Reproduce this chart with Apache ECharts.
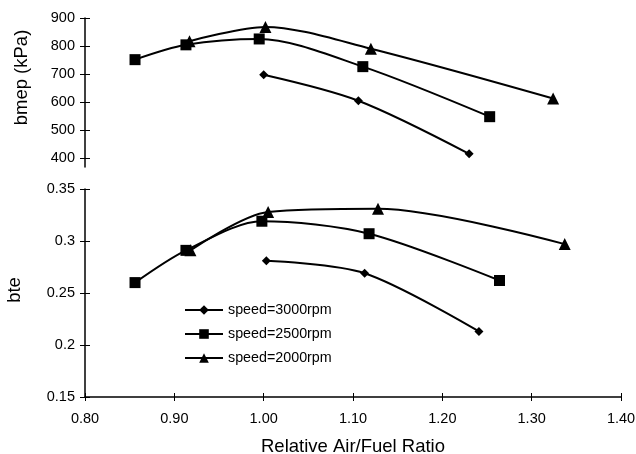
<!DOCTYPE html>
<html>
<head>
<meta charset="utf-8">
<script src="https://cdn.jsdelivr.net/npm/echarts@6/dist/echarts.min.js"></script>
<style>
  html, body { margin: 0; padding: 0; background: #fff; }
  #chart { width: 636px; height: 454px; }
</style>
</head>
<body>
<div id="chart"></div>
<script>
// speeds (legend entries)
const speeds = ['speed=3000rpm', 'speed=2500rpm', 'speed=2000rpm'];
const markers = ['diamond', 'rect', 'triangle'];
const markerSizes = [9, 11, 12];

// top panel: bmep (kPa) vs relative air/fuel ratio
const lambdaBmep3000 = [1.000, 1.106, 1.230];
const bmep3000       = [697, 604, 414];
const lambdaBmep2500 = [0.856, 0.913, 0.995, 1.111, 1.253];
const bmep2500       = [751, 804, 825, 726, 547];
const lambdaBmep2000 = [0.917, 1.002, 1.120, 1.324];
const bmep2000       = [817, 868, 790, 612];

// bottom panel: bte vs relative air/fuel ratio
const lambdaBte3000 = [1.003, 1.113, 1.241];
const bte3000       = [0.281, 0.269, 0.213];
const lambdaBte2500 = [0.856, 0.913, 0.998, 1.118, 1.264];
const bte2500       = [0.260, 0.291, 0.319, 0.307, 0.262];
const lambdaBte2000 = [0.918, 1.005, 1.128, 1.337];
const bte2000       = [0.291, 0.328, 0.331, 0.297];

const bmepTicks = [400, 500, 600, 700, 800, 900];

const FONT = '"Liberation Sans", Arial, sans-serif';
const pairs = (xs, ys) => xs.map((x, i) => [x, ys[i]]);

const topData = [pairs(lambdaBmep3000, bmep3000), pairs(lambdaBmep2500, bmep2500), pairs(lambdaBmep2000, bmep2000)];
const botData = [pairs(lambdaBte3000, bte3000), pairs(lambdaBte2500, bte2500), pairs(lambdaBte2000, bte2000)];

const axisLine = { show: true, lineStyle: { color: '#000', width: 1.5 } };
const tickLabel = { color: '#000', fontSize: 14.5, fontFamily: FONT };
const titleText = { color: '#000', fontSize: 18.5, fontFamily: FONT };

function makeSeries(data, axisIdx) {
  return data.map((d, i) => ({
    name: speeds[i],
    type: 'line',
    xAxisIndex: axisIdx,
    yAxisIndex: axisIdx,
    data: d,
    smooth: 0.3,
    symbol: markers[i],
    symbolSize: markerSizes[i],
    itemStyle: { color: '#000' },
    lineStyle: { color: '#000', width: 2 },
  }));
}

const chart = echarts.init(document.getElementById('chart'), null, { renderer: 'canvas' });
chart.setOption({
  backgroundColor: '#fff',
  animation: false,
  grid: [
    { left: 85, right: 15, top: 18, height: 149, outerBoundsMode: 'none' },
    { left: 85, right: 15, top: 189, height: 208, outerBoundsMode: 'none' },
  ],
  legend: {
    orient: 'vertical',
    left: 179, top: 298,
    itemWidth: 38, itemHeight: 12, itemGap: 10,
    data: speeds,
    textStyle: { color: '#000', fontSize: 14.3, fontFamily: FONT },
  },
  xAxis: [
    { type: 'value', gridIndex: 0, min: 0.8, max: 1.4, show: false },
    {
      type: 'value', gridIndex: 1, min: 0.8, max: 1.4, interval: 0.1,
      axisLine,
      axisTick: { show: true, length: 4, lineStyle: { color: '#000' } },
      axisLabel: { ...tickLabel, margin: 14, formatter: v => v.toFixed(2) },
      splitLine: { show: false },
      name: 'Relative Air/Fuel Ratio', nameLocation: 'middle', nameGap: 40,
      nameTextStyle: titleText,
    },
    // inner half of the crossing x ticks
    {
      type: 'value', gridIndex: 1, min: 0.8, max: 1.4, interval: 0.1, position: 'bottom',
      axisLine: { show: false },
      axisTick: { show: true, inside: true, length: 4, lineStyle: { color: '#000' } },
      axisLabel: { show: false }, splitLine: { show: false },
    },
  ],
  yAxis: [
    {
      type: 'value', gridIndex: 0, min: 367, max: 900,
      axisLine,
      axisTick: { show: true, length: 5, customValues: bmepTicks, lineStyle: { color: '#000' } },
      axisLabel: { ...tickLabel, margin: 10, customValues: bmepTicks },
      splitLine: { show: false },
      name: 'bmep (kPa)', nameLocation: 'middle', nameGap: 54, nameRotate: 90,
      nameTextStyle: { ...titleText, padding: [0, 0, 0, 30] },
    },
    {
      type: 'value', gridIndex: 1, min: 0.15, max: 0.35, interval: 0.05,
      axisLine,
      axisTick: { show: true, length: 5, lineStyle: { color: '#000' } },
      axisLabel: { ...tickLabel, margin: 10, formatter: v => String(+v.toFixed(2)) },
      splitLine: { show: false },
      name: 'bte', nameLocation: 'middle', nameGap: 61, nameRotate: 90,
      nameTextStyle: { ...titleText, padding: [0, 0, 0, 6] },
    },
    // inner halves of the crossing y ticks
    {
      type: 'value', gridIndex: 0, min: 367, max: 900, position: 'left',
      axisLine: { show: false },
      axisTick: { show: true, inside: true, length: 5, customValues: bmepTicks, lineStyle: { color: '#000' } },
      axisLabel: { show: false }, splitLine: { show: false },
    },
    {
      type: 'value', gridIndex: 1, min: 0.15, max: 0.35, interval: 0.05, position: 'left',
      axisLine: { show: false },
      axisTick: { show: true, inside: true, length: 5, lineStyle: { color: '#000' } },
      axisLabel: { show: false }, splitLine: { show: false },
    },
  ],
  series: [...makeSeries(topData, 0), ...makeSeries(botData, 1)],
});
</script>
</body>
</html>
